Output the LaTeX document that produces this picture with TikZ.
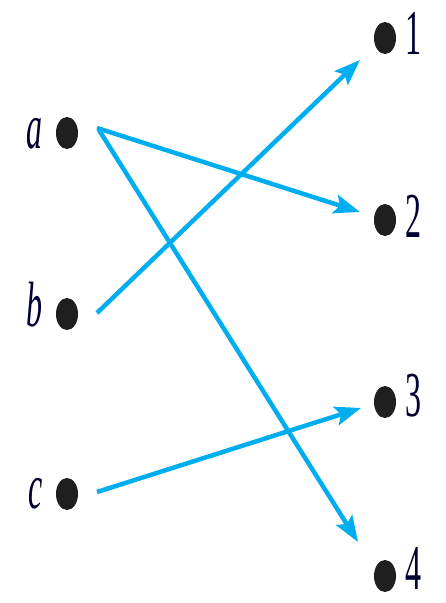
\documentclass[tikz,border=0pt]{standalone}
\usepackage{fontspec}
\setmainfont{Liberation Serif}
\usetikzlibrary{arrows.meta}
\definecolor{arrowblue}{HTML}{00AEEF}
\tikzset{
  lbl/.style={font=\fontsize{64}{64}\selectfont, inner sep=0pt, xscale=0.5, text=black!80!blue},
  link/.style={draw=arrowblue, line width=4.5pt, -{Stealth[length=26pt,width=19pt,inset=5pt]}},
}
\begin{document}
\begin{tikzpicture}[x=1pt,y=-1pt]
\useasboundingbox (0,0) rectangle (446,603);
% dots
\foreach \n/\x/\y in {a/67/133, b/67/314, c/67/494, n1/385/38, n2/385/220, n3/385/402, n4/385/576}{
  \fill[black!88] (\x,\y) ellipse [x radius=11pt, y radius=16pt];
  \coordinate (\n) at (\x,\y);
}
% labels
\node[lbl] (la) at (35,134) {\itshape a};
\node[lbl] (lb) at (34,305) {\itshape b};
\node[lbl] (lc) at (36,494) {\itshape c};
\node[lbl] (l1) at (413,33) {1};
\node[lbl] (l2) at (413,216) {2};
\node[lbl] (l3) at (413,396) {3};
\node[lbl] (l4) at (413,568) {4};
% arrow endpoints
\coordinate (as) at (97,128);
\coordinate (at2) at (360,212);
\coordinate (as4) at (99,130);
\coordinate (at4) at (358,542);
\coordinate (bs) at (97,313);
\coordinate (bt1) at (360,60);
\coordinate (cs) at (97,492);
\coordinate (ct3) at (361,408);
\draw[link] (as) -- (at2);
\draw[link] (as4) -- (at4);
\draw[link] (bs) -- (bt1);
\draw[link] (cs) -- (ct3);
\end{tikzpicture}
\end{document}
